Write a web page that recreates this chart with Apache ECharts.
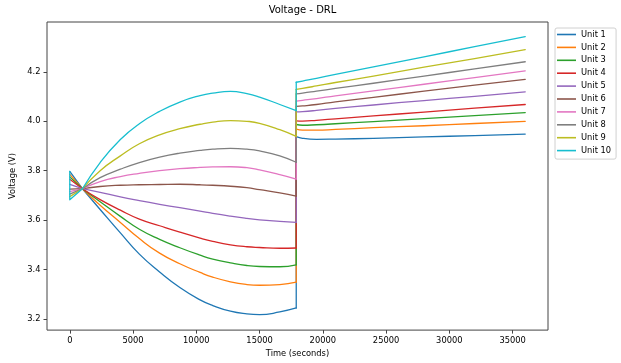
<!DOCTYPE html>
<html>
<head>
<meta charset="utf-8">
<script src="https://cdn.jsdelivr.net/npm/echarts@6/dist/echarts.min.js"></script>
<style>
html,body{margin:0;padding:0;background:#fff;}
#c{width:621px;height:363px;}
</style>
</head>
<body>
<div id="c"></div>
<script>
const times = [0, 1000, 2400, 4000, 5500, 7100, 8700, 10300, 11300, 12700, 14000, 15000, 16600, 17900, 17900, 18400, 19500, 21000, 24000, 28000, 32000, 36000];

const unit1 = [3.797, 3.727, 3.643, 3.548, 3.462, 3.390, 3.327, 3.277, 3.254, 3.231, 3.220, 3.217, 3.228, 3.244, 3.938, 3.931, 3.927, 3.928, 3.931, 3.937, 3.942, 3.948];
const unit2 = [3.785, 3.727, 3.660, 3.590, 3.525, 3.466, 3.423, 3.388, 3.369, 3.350, 3.339, 3.336, 3.339, 3.349, 3.968, 3.964, 3.964, 3.967, 3.974, 3.982, 3.991, 4.000];
const unit3 = [3.775, 3.727, 3.674, 3.615, 3.563, 3.522, 3.488, 3.458, 3.442, 3.427, 3.416, 3.412, 3.411, 3.419, 3.987, 3.984, 3.986, 3.990, 3.999, 4.011, 4.023, 4.035];
const unit4 = [3.765, 3.727, 3.683, 3.640, 3.604, 3.577, 3.551, 3.527, 3.514, 3.500, 3.492, 3.489, 3.486, 3.487, 4.002, 4.001, 4.004, 4.010, 4.022, 4.037, 4.053, 4.068];
const unit5 = [3.745, 3.727, 3.712, 3.694, 3.679, 3.664, 3.650, 3.636, 3.627, 3.616, 3.607, 3.601, 3.595, 3.591, 4.038, 4.039, 4.044, 4.052, 4.066, 4.084, 4.101, 4.119];
const unit6 = [3.725, 3.727, 3.736, 3.741, 3.743, 3.744, 3.745, 3.743, 3.741, 3.737, 3.731, 3.723, 3.710, 3.697, 4.060, 4.062, 4.068, 4.079, 4.097, 4.122, 4.146, 4.170];
const unit7 = [3.715, 3.727, 3.756, 3.776, 3.789, 3.800, 3.808, 3.813, 3.815, 3.816, 3.812, 3.803, 3.784, 3.766, 4.082, 4.085, 4.092, 4.103, 4.123, 4.150, 4.177, 4.204];
const unit8 = [3.705, 3.727, 3.772, 3.806, 3.833, 3.855, 3.871, 3.882, 3.887, 3.890, 3.887, 3.880, 3.860, 3.834, 4.111, 4.114, 4.122, 4.133, 4.154, 4.183, 4.212, 4.241];
const unit9 = [3.695, 3.727, 3.800, 3.860, 3.909, 3.945, 3.970, 3.988, 3.997, 4.003, 4.000, 3.992, 3.966, 3.939, 4.129, 4.133, 4.143, 4.157, 4.183, 4.219, 4.254, 4.290];
const unit10 = [3.682, 3.727, 3.833, 3.926, 3.990, 4.040, 4.078, 4.104, 4.114, 4.121, 4.112, 4.098, 4.068, 4.043, 4.158, 4.163, 4.174, 4.190, 4.220, 4.261, 4.302, 4.343];
const unit10InitialValue = 3.797;

const seriesNames = ['Unit 1','Unit 2','Unit 3','Unit 4','Unit 5','Unit 6','Unit 7','Unit 8','Unit 9','Unit 10'];
const seriesValues = [unit1, unit2, unit3, unit4, unit5, unit6, unit7, unit8, unit9, unit10];
const colors = ['#1f77b4','#ff7f0e','#2ca02c','#d62728','#9467bd','#8c564b','#e377c2','#7f7f7f','#bcbd22','#17becf'];

const xTicks = [0, 5000, 10000, 15000, 20000, 25000, 30000, 35000];
const yTicks = [3.2, 3.4, 3.6, 3.8, 4.0, 4.2];

const FONT = 'DejaVu Sans';
const axisColor = '#444';

// index ranges of the pieces of each curve: straight start, smooth first phase, straight jump, smooth second phase
const pieces = [
  { from: 0, to: 1, smooth: false },
  { from: 1, to: 13, smooth: 0.5 },
  { from: 13, to: 14, smooth: false },
  { from: 14, to: 21, smooth: 0.5 }
];

const series = [];
seriesNames.forEach((name, i) => {
  pieces.forEach((p, pi) => {
    let data = [];
    for (let k = p.from; k <= p.to; k++) data.push([times[k], seriesValues[i][k]]);
    if (i === 9 && pi === 0) data = [[times[0], unit10InitialValue]].concat(data);
    series.push({
      name: name,
      type: 'line',
      data: data,
      symbol: 'none',
      smooth: p.smooth,
      lineStyle: { width: 1.3, color: colors[i], cap: 'round', join: 'round' },
      itemStyle: { color: colors[i] },
      z: 2 + i,
      animation: false
    });
  });
});

const chart = echarts.init(document.getElementById('c'), null, { renderer: 'canvas' });
chart.setOption({
  animation: false,
  backgroundColor: '#fff',
  title: {
    text: 'Voltage - DRL',
    left: 297.5,
    textAlign: 'center',
    top: 0,
    textStyle: { fontFamily: FONT, fontSize: 10, fontWeight: 'normal', color: '#000' }
  },
  grid: {
    left: 47, top: 22, width: 501, height: 315,
    show: true, borderColor: axisColor, borderWidth: 1, backgroundColor: 'transparent'
  },
  legend: {
    orient: 'vertical',
    left: 555,
    top: 28,
    icon: 'rect',
    itemWidth: 19,
    itemHeight: 1.6,
    itemGap: 3.9,
    padding: [2, 5, 4, 2],
    borderColor: '#d0d0d0',
    borderWidth: 1,
    borderRadius: 2,
    textStyle: { fontFamily: FONT, fontSize: 8.3, lineHeight: 9, color: '#000' },
    data: seriesNames.map((n, i) => ({ name: n, itemStyle: { color: colors[i] } }))
  },
  xAxis: {
    type: 'value',
    min: -1800,
    max: 37800,
    name: 'Time (seconds)',
    nameLocation: 'middle',
    nameGap: 19,
    nameTextStyle: { fontFamily: FONT, fontSize: 8.3, color: '#000' },
    axisLine: { show: false, onZero: false },
    axisTick: { show: true, inside: false, length: 3.5, lineStyle: { color: axisColor }, customValues: xTicks },
    axisLabel: { fontFamily: FONT, fontSize: 8.3, color: '#000', margin: 7, customValues: xTicks, formatter: v => String(v) },
    splitLine: { show: false }
  },
  yAxis: {
    type: 'value',
    min: 3.1545,
    max: 4.402,
    name: 'Voltage (V)',
    nameLocation: 'middle',
    nameGap: 17,
    nameTextStyle: { fontFamily: FONT, fontSize: 8.3, color: '#000' },
    axisLine: { show: false, onZero: false },
    axisTick: { show: true, inside: false, length: 3.5, lineStyle: { color: axisColor }, customValues: yTicks },
    axisLabel: { fontFamily: FONT, fontSize: 8.3, color: '#000', margin: 6.5, customValues: yTicks, formatter: v => v.toFixed(1) },
    splitLine: { show: false }
  },
  series: series
});
</script>
</body>
</html>
